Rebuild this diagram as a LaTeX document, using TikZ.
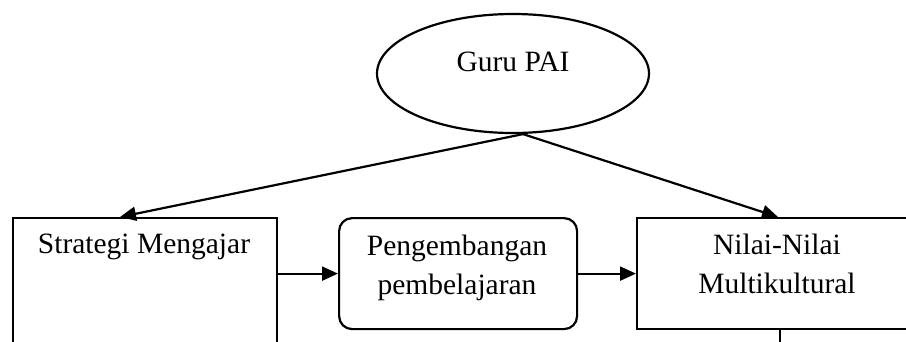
\documentclass[tikz,border=0pt]{standalone}
\usepackage{fontspec}
\setmainfont{Liberation Serif}
\usetikzlibrary{arrows.meta,shapes.geometric,calc}
\begin{document}
\begin{tikzpicture}[x=1pt,y=-1pt,
  txt/.style={font=\fontsize{29.5}{39}\selectfont, align=center, inner sep=0},
  boxline/.style={draw, line width=2.2pt},
  conn/.style={line width=2.2pt, -{Triangle[length=16pt,width=14pt]}}]
\useasboundingbox (0,0) rectangle (906,341);
\clip (0,0) rectangle (906,341);
% shapes
\node[ellipse, boxline, minimum width=272pt, minimum height=119pt, inner sep=0] (guru) at (513,73.5) {};
\node[txt] (gurut) at (513,62) {Guru PAI};
\node[boxline, rectangle, minimum width=264pt, minimum height=126pt, inner sep=0, anchor=north west] (strat) at (12,217) {};
\node[txt] (stratt) at (144,247) {Strategi Mengajar};
\node[boxline, rectangle, rounded corners=13pt, minimum width=238pt, minimum height=111pt, inner sep=0, anchor=north west] (peng) at (338,217) {};
\node[txt] (pengt) at (457,268) {Pengembangan\\pembelajaran};
\node[boxline, rectangle, minimum width=282pt, minimum height=111pt, inner sep=0, anchor=north west] (nilai) at (636,217) {};
\node[txt] (nilait) at (777,264) {Nilai-Nilai\\Multikultural};
% connector points
\coordinate (apex) at ($(guru.south)+(10,0)$);
\coordinate (t1) at ($(strat.north west)+(108,0)$);
\coordinate (t2) at ($(nilai.north west)+(142,0)$);
\coordinate (d1) at ($(nilai.south west)+(144,0)$);
\coordinate (d2) at ($(d1)+(0,20)$);
% connectors
\draw[conn] (apex) -- (t1);
\draw[conn] (apex) -- (t2);
\draw[conn] (strat.east |- peng.west) -- (peng.west);
\draw[conn] (peng.east) -- (nilai.west);
\draw[line width=2.2pt] (d1) -- (d2);
\end{tikzpicture}
\end{document}
